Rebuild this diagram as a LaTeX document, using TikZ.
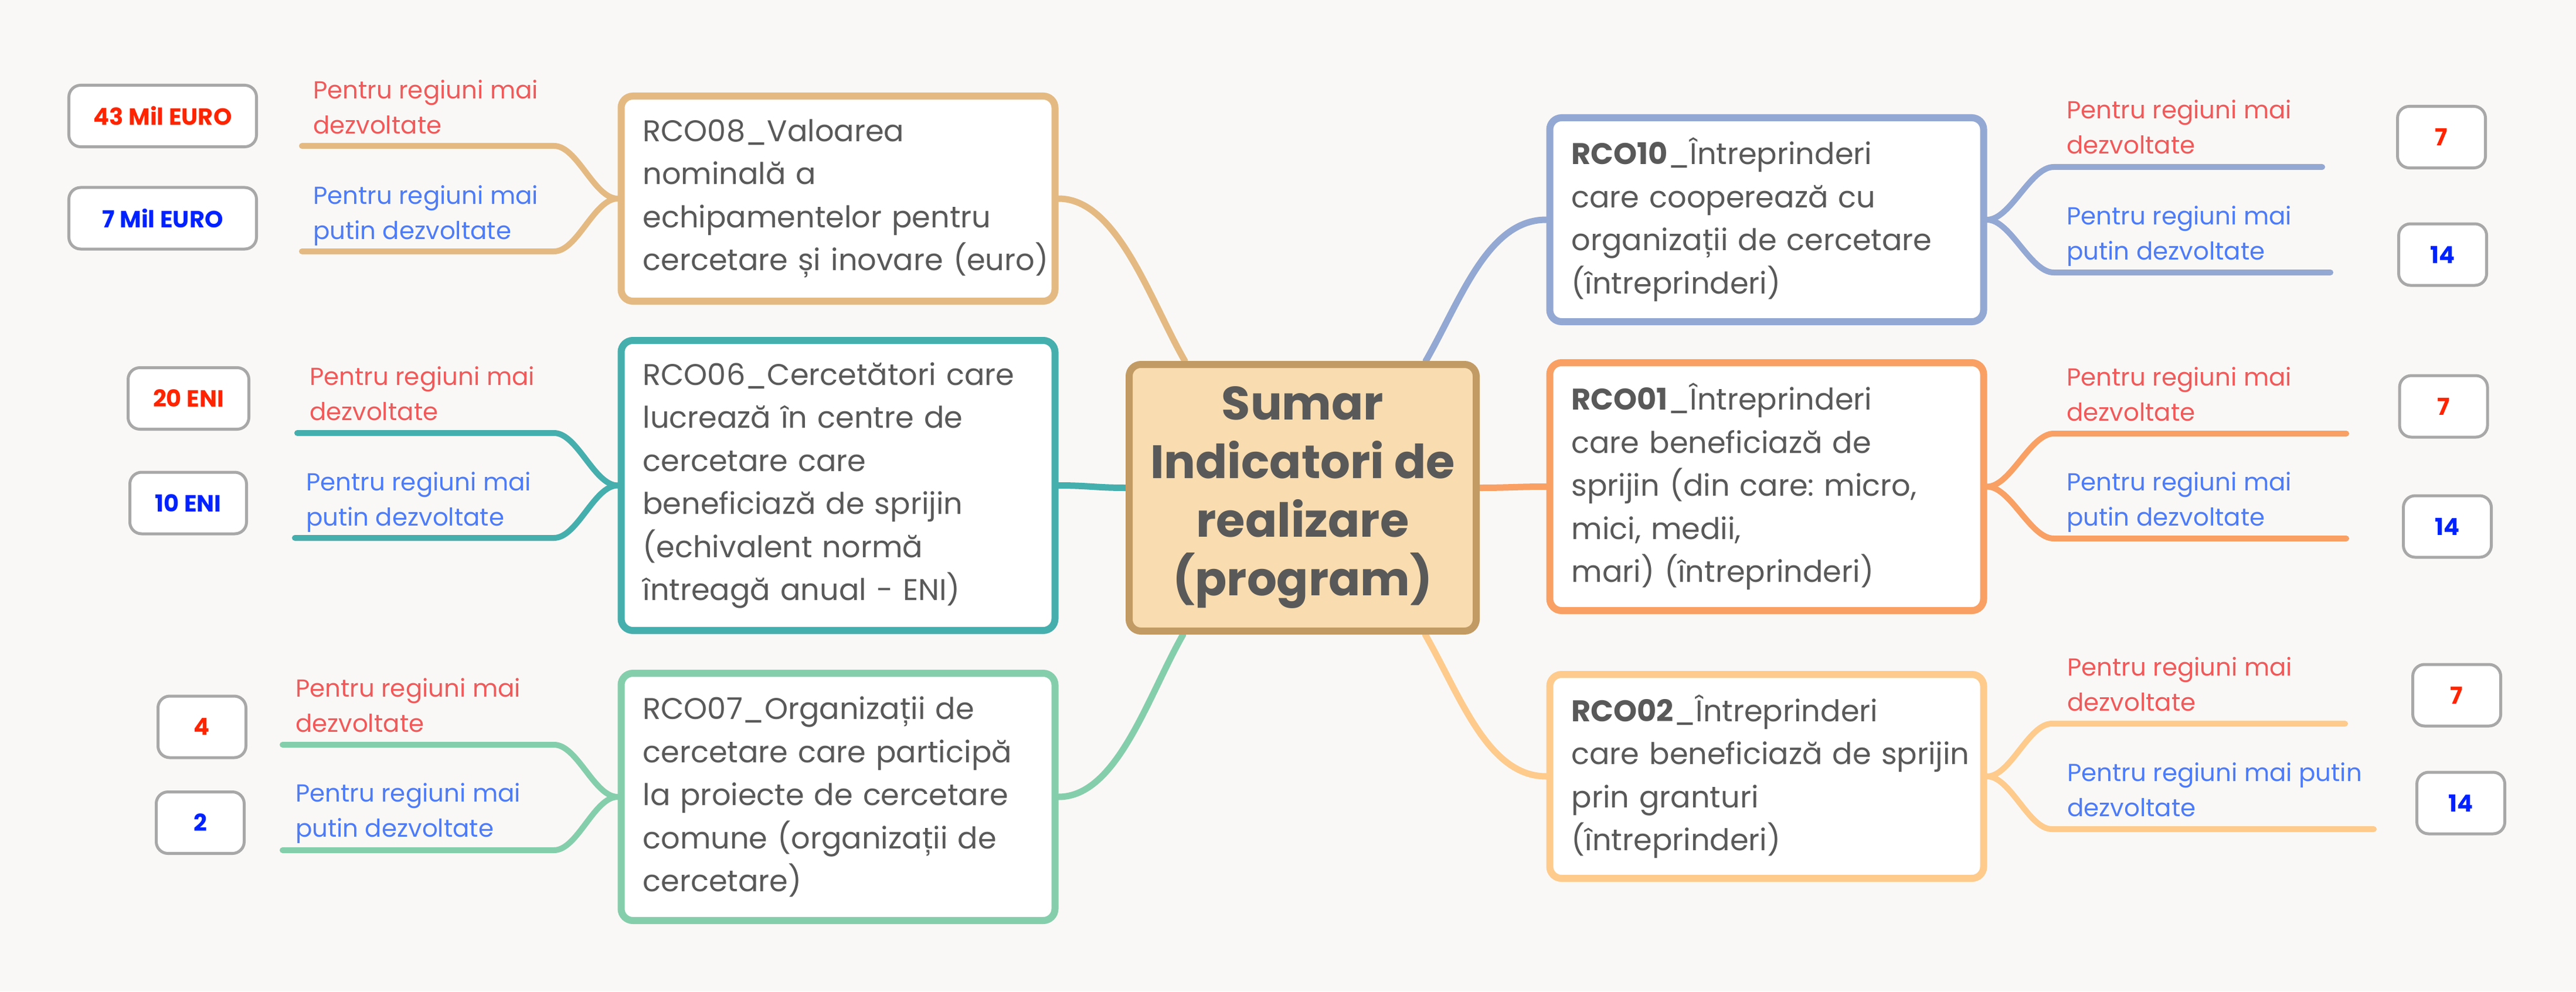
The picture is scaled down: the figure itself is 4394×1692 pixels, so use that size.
\documentclass[tikz,border=0pt]{standalone}
\usepackage{fontspec}
\setmainfont{Poppins}
\usetikzlibrary{calc}
\definecolor{bgc}{HTML}{FAF8F6}
\definecolor{cA}{HTML}{E4BA82}
\definecolor{cB}{HTML}{45AFAE}
\definecolor{cC}{HTML}{85CEAC}
\definecolor{cD}{HTML}{93A8D3}
\definecolor{cE}{HTML}{F9A064}
\definecolor{cF}{HTML}{FECB8C}
\definecolor{cbord}{HTML}{C29B64}
\definecolor{cfill}{HTML}{F9DCAF}
\definecolor{txt}{HTML}{595959}
\definecolor{lred}{HTML}{F05A5A}
\definecolor{lblue}{HTML}{4D7CF8}
\definecolor{nred}{HTML}{FF2400}
\definecolor{nblue}{HTML}{0022FF}
\definecolor{gbord}{HTML}{A8A8A8}
\pgfdeclarelayer{bgl}
\pgfdeclarelayer{links}
\pgfsetlayers{bgl,links,main}
\begin{document}
\hyphenpenalty=10000
\exhyphenpenalty=10000
\begin{tikzpicture}[x=0.2pt,y=-0.2pt,
  topic/.style={draw, line width=2.4pt, rounded corners=4pt, fill=white, text=txt,
    align=left, inner xsep=7.4pt, inner ysep=0pt, text width=133.2pt,
    font=\fontsize{10.2pt}{14.7pt}\selectfont},
  centerbox/.style={draw=cbord, fill=cfill, line width=2.4pt, rounded corners=4pt,
    text=txt, align=center, inner sep=0pt, minimum width=118.4pt, minimum height=91pt,
    font=\bfseries\fontsize{16pt}{20pt}\selectfont},
  numbox/.style={draw=gbord, line width=1pt, rounded corners=4pt, fill=white,
    inner sep=0pt, minimum height=21pt, font=\bfseries\fontsize{8pt}{10pt}\selectfont},
  numred/.style={numbox, text=nred},
  numblue/.style={numbox, text=nblue},
  lab/.style={anchor=base west, inner sep=0pt, align=left,
    font=\fontsize{8.4pt}{12pt}\selectfont},
  labred/.style={lab, text=lred},
  labblue/.style={lab, text=lblue},
  mainlink/.style={line width=2.2pt, line cap=round},
  sublink/.style={line width=2pt, line cap=round}
]
\useasboundingbox (0,0) rectangle (4394,1692);
\begin{pgfonlayer}{bgl}
\fill[bgc] (0,0) rectangle (4394,1692);
\end{pgfonlayer}

% central topic
\node[centerbox] (center) at (2222,849.5) {Sumar\\Indicatori de\\realizare\\(program)};

% main topics left
\node[topic, draw=cA, minimum height=70pt] (rco08) at (1429.5,339)
  {RCO08\_Valoarea\\nominală~a\\echipamentelor~pentru\\cercetare~și~inovare~(euro)};
\node[topic, draw=cB, minimum height=99pt] (rco06) at (1429.5,828.5)
  {RCO06\_Cercetători~care\\lucrează~în~centre~de\\cercetare~care\\beneficiază~de~sprijin\\(echivalent~normă\\întreagă~anual~-~ENI)};
\node[topic, draw=cC, minimum height=84.4pt] (rco07) at (1429.5,1360)
  {RCO07\_Organizații~de\\cercetare~care~participă\\la~proiecte~de~cercetare\\comune~(organizații~de\\cercetare)};

% main topics right
\node[topic, draw=cD, minimum height=69.6pt] (rco10) at (3013.5,375)
  {\textbf{RCO10}\_Întreprinderi\\care~cooperează~cu\\organizații~de~cercetare\\(întreprinderi)};
\node[topic, draw=cE, minimum height=84.6pt] (rco01) at (3013.5,830.5)
  {\textbf{RCO01}\_Întreprinderi\\care~beneficiază~de\\sprijin~(din~care:~micro,\\mici,~medii,\\mari)~(întreprinderi)};
\node[topic, draw=cF, minimum height=69.6pt] (rco02) at (3013.5,1325)
  {\textbf{RCO02}\_Întreprinderi\\care~beneficiază~de~sprijin\\prin~granturi\\(întreprinderi)};

% value boxes
\node[numred, minimum width=64pt] (n08a) at (277.5,198) {43 Mil EURO};
\node[numblue, minimum width=64pt] (n08b) at (277.5,372.5) {7 Mil EURO};
\node[numred, minimum width=41.2pt] (n06a) at (321.5,680) {20 ENI};
\node[numblue, minimum width=39.8pt] (n06b) at (321,858.5) {10 ENI};
\node[numred, minimum width=30pt] (n07a) at (344.5,1240.5) {4};
\node[numblue, minimum width=30pt] (n07b) at (341.5,1404) {2};
\node[numred, minimum width=30pt] (n10a) at (4164.5,234) {7};
\node[numblue, minimum width=30pt] (n10b) at (4166.5,434.5) {14};
\node[numred, minimum width=30pt] (n01a) at (4168,693.5) {7};
\node[numblue, minimum width=30pt] (n01b) at (4174.5,898.5) {14};
\node[numred, minimum width=30pt] (n02a) at (4190.5,1186.5) {7};
\node[numblue, minimum width=30pt] (n02b) at (4197.5,1370.5) {14};

% labels (anchored at the baseline of their last line)
\node[labred] (l08r) at (533,228) {Pentru regiuni mai\\dezvoltate};
\node[labblue] (l08b) at (533,408) {Pentru regiuni mai\\putin dezvoltate};
\node[labred] (l06r) at (527,717) {Pentru regiuni mai\\dezvoltate};
\node[labblue] (l06b) at (521,897) {Pentru regiuni mai\\putin dezvoltate};
\node[labred] (l07r) at (503,1249) {Pentru regiuni mai\\dezvoltate};
\node[labblue] (l07b) at (503,1428) {Pentru regiuni mai\\putin dezvoltate};
\node[labred] (l10r) at (3524,263) {Pentru regiuni mai\\dezvoltate};
\node[labblue] (l10b) at (3524,443) {Pentru regiuni mai\\putin dezvoltate};
\node[labred] (l01r) at (3524,718) {Pentru regiuni mai\\dezvoltate};
\node[labblue] (l01b) at (3524,897) {Pentru regiuni mai\\putin dezvoltate};
\node[labred] (l02r) at (3525,1213) {Pentru regiuni mai\\dezvoltate};
\node[labblue] (l02b) at (3525,1393) {Pentru regiuni mai putin\\dezvoltate};

% free ends of sub-branches
\coordinate (k08u) at (945,249);  \coordinate (e08u) at (515,249);
\coordinate (k08l) at (945,429);  \coordinate (e08l) at (515,429);
\coordinate (k06u) at (945,739);  \coordinate (e06u) at (507,739);
\coordinate (k06l) at (945,918);  \coordinate (e06l) at (503,918);
\coordinate (k07u) at (945,1271); \coordinate (e07u) at (482,1271);
\coordinate (k07l) at (945,1451); \coordinate (e07l) at (482,1451);
\coordinate (k10u) at (3503,285); \coordinate (e10u) at (3961,285);
\coordinate (k10l) at (3503,465); \coordinate (e10l) at (3975,465);
\coordinate (k01u) at (3503,740); \coordinate (e01u) at (4002,740);
\coordinate (k01l) at (3503,919); \coordinate (e01l) at (4002,919);
\coordinate (k02u) at (3500,1235); \coordinate (e02u) at (4000,1235);
\coordinate (k02l) at (3500,1415); \coordinate (e02l) at (4049,1415);

\begin{pgfonlayer}{links}
% main branches
\draw[mainlink, cA] ($(center.north west)+(101,0)$) .. controls +(-60,-105) and +(100,0) .. (rco08.east);
\draw[mainlink, cB] ($(center.west)+(0,-17)$) .. controls +(-50,0) and +(50,0) .. (rco06.east);
\draw[mainlink, cC] ($(center.south west)+(98,0)$) .. controls +(-60,105) and +(100,0) .. (rco07.east);
\draw[mainlink, cD] ($(center.north east)+(-92,0)$) .. controls +(60,-105) and +(-100,0) .. (rco10.west);
\draw[mainlink, cE] ($(center.east)+(0,-17)$) .. controls +(50,0) and +(-50,0) .. (rco01.west);
\draw[mainlink, cF] ($(center.south east)+(-93,0)$) .. controls +(60,105) and +(-100,0) .. (rco02.west);
% sub branches left
\draw[sublink, cA] (rco08.west) .. controls +(-40,0) and +(40,0) .. (k08u) -- (e08u);
\draw[sublink, cA] (rco08.west) .. controls +(-40,0) and +(40,0) .. (k08l) -- (e08l);
\draw[sublink, cB] (rco06.west) .. controls +(-40,0) and +(40,0) .. (k06u) -- (e06u);
\draw[sublink, cB] (rco06.west) .. controls +(-40,0) and +(40,0) .. (k06l) -- (e06l);
\draw[sublink, cC] (rco07.west) .. controls +(-40,0) and +(40,0) .. (k07u) -- (e07u);
\draw[sublink, cC] (rco07.west) .. controls +(-40,0) and +(40,0) .. (k07l) -- (e07l);
% sub branches right
\draw[sublink, cD] (rco10.east) .. controls +(40,0) and +(-40,0) .. (k10u) -- (e10u);
\draw[sublink, cD] (rco10.east) .. controls +(40,0) and +(-40,0) .. (k10l) -- (e10l);
\draw[sublink, cE] (rco01.east) .. controls +(40,0) and +(-40,0) .. (k01u) -- (e01u);
\draw[sublink, cE] (rco01.east) .. controls +(40,0) and +(-40,0) .. (k01l) -- (e01l);
\draw[sublink, cF] (rco02.east) .. controls +(40,0) and +(-40,0) .. (k02u) -- (e02u);
\draw[sublink, cF] (rco02.east) .. controls +(40,0) and +(-40,0) .. (k02l) -- (e02l);
\end{pgfonlayer}
\end{tikzpicture}
\end{document}
